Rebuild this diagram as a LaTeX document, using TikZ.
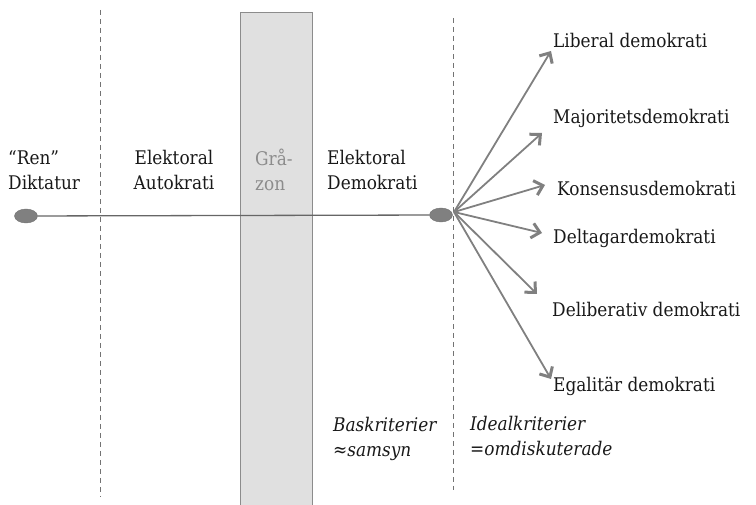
\documentclass[tikz,border=0pt]{standalone}
\usepackage{fontspec}
\setmainfont{DejaVu Serif Condensed}
\usetikzlibrary{arrows.meta,shapes.geometric}
\begin{document}
\begin{tikzpicture}[x=1pt,y=-1pt,
  lbl/.style={font=\fontsize{18.8}{25}\selectfont, align=left, inner sep=0pt, text=black!90},
  itl/.style={lbl, font=\fontsize{18.8}{25}\selectfont\itshape},
  dashline/.style={draw=black!55, dashed, dash pattern=on 5pt off 4pt, line width=1pt},
  dot/.style={ellipse, draw=black!55, fill=black!50, minimum width=23pt, minimum height=14pt, inner sep=0pt},
  branch/.style={draw=black!50, line width=1.8pt, -{Straight Barb[length=8pt,width=15pt,line width=3pt]}}]
\useasboundingbox (0,0) rectangle (756,505);
% gray zone
\fill[black!12] (240,12) rectangle (312,506);
\draw[black!45, line width=0.9pt] (240,506) -- (240,12) -- (312,12) -- (312,506);
% dashed boundaries
\coordinate (d1t) at (100,10); \coordinate (d1b) at (100,497);
\coordinate (d2t) at (453,18); \coordinate (d2b) at (453,490);
\draw[dashline] (d1t) -- (d1b);
\draw[dashline] (d2t) -- (d2b);
% main axis
\node[dot] (left) at (26,216) {};
\node[dot] (right) at (441,215) {};
\draw[black!60, line width=1.3pt] (left) -- (right);
\coordinate (o) at (454,212);
% labels upper
\node[lbl, anchor=west] (ren) at (8,170) {“Ren”\\Diktatur};
\node[lbl, align=center] (ea) at (174,170) {Elektoral\\Autokrati};
\node[lbl, anchor=west, text=black!45] (gz) at (255,170) {Grå-\\zon};
\node[lbl, anchor=west] (ed) at (327,170) {Elektoral\\Demokrati};
% branch labels
\node[lbl, anchor=west] (lib) at (553,40) {Liberal demokrati};
\node[lbl, anchor=west] (maj) at (553,118) {Majoritetsdemokrati};
\node[lbl, anchor=west] (kon) at (557,188) {Konsensusdemokrati};
\node[lbl, anchor=west] (del) at (553,238) {Deltagardemokrati};
\node[lbl, anchor=west] (dlb) at (552,309) {Deliberativ demokrati};
\node[lbl, anchor=west] (ega) at (553,386) {Egalitär demokrati};
\coordinate (tlib) at (551,51);
\coordinate (tmaj) at (542,133);
\coordinate (tkon) at (545,185);
\coordinate (tdel) at (542,233);
\coordinate (tdlb) at (537,294);
\coordinate (tega) at (551,379);
\foreach \t in {tlib,tmaj,tkon,tdel,tdlb,tega} \draw[branch] (o) -- (\t);
% bottom labels
\node[itl, anchor=west] (bas) at (333,439) {Baskriterier\\≈samsyn};
\node[itl, anchor=west] (ide) at (470,436) {Idealkriterier\\=omdiskuterade};
\end{tikzpicture}
\end{document}
